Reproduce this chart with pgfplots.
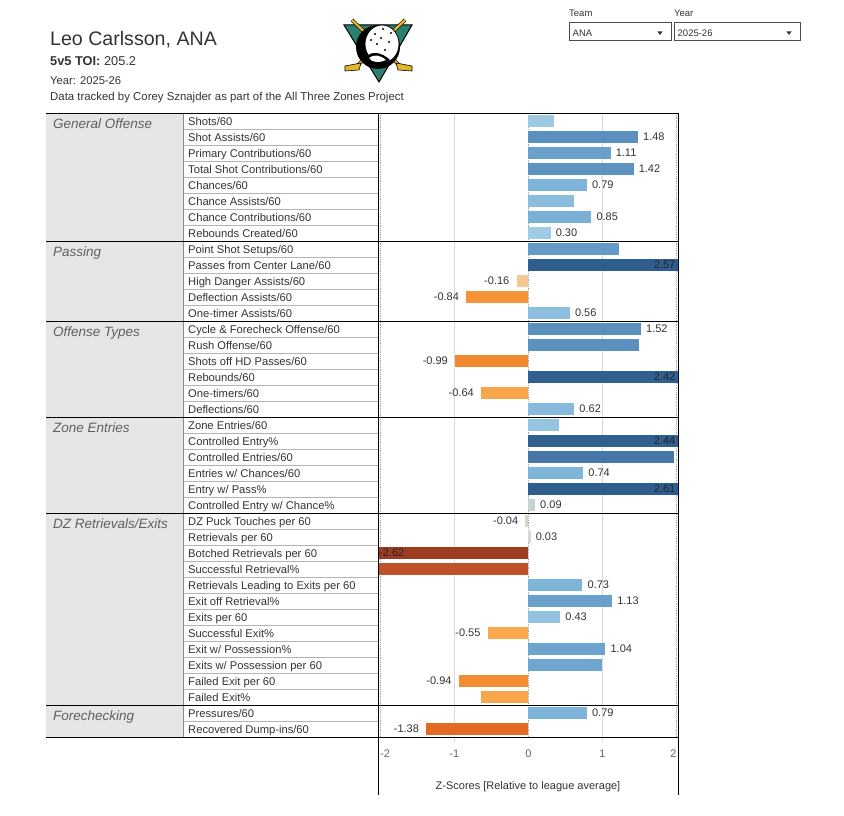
\documentclass[border=0pt]{standalone}
\usepackage{pgfplots}
\pgfplotsset{compat=1.18}
\usepackage{fontspec}
\setmainfont{Liberation Sans}
\definecolor{txt}{HTML}{333333}
\definecolor{grp}{HTML}{5F5F5F}
\definecolor{tickc}{HTML}{666666}
\definecolor{gfill}{HTML}{E6E6E6}
\definecolor{rowl}{HTML}{B4B4B4}
\definecolor{gridc}{HTML}{D9D9D9}
\definecolor{duckteal}{HTML}{2A8070}
\definecolor{stickc}{HTML}{E2B52A}
% bar colours, one per row
\definecolor{r01}{HTML}{9DC9E3}\definecolor{r02}{HTML}{5B8FBF}\definecolor{r03}{HTML}{6AA1CB}
\definecolor{r04}{HTML}{5D92C1}\definecolor{r05}{HTML}{7FB4DA}\definecolor{r06}{HTML}{8BBDDE}
\definecolor{r07}{HTML}{7AAFD6}\definecolor{r08}{HTML}{9FCBE4}\definecolor{r09}{HTML}{659BC8}
\definecolor{r10}{HTML}{2E5E8E}\definecolor{r11}{HTML}{F5C791}\definecolor{r12}{HTML}{F49436}
\definecolor{r13}{HTML}{8CBFDE}\definecolor{r14}{HTML}{5A8FBE}\definecolor{r15}{HTML}{5B90BF}
\definecolor{r16}{HTML}{F08A30}\definecolor{r17}{HTML}{2F6090}\definecolor{r18}{HTML}{F9A54A}
\definecolor{r19}{HTML}{88BADE}\definecolor{r20}{HTML}{94C4E2}\definecolor{r21}{HTML}{2F6090}
\definecolor{r22}{HTML}{4677A8}\definecolor{r23}{HTML}{80B5DA}\definecolor{r24}{HTML}{2E5E8E}
\definecolor{r25}{HTML}{C5D2D6}\definecolor{r26}{HTML}{DFD3C4}\definecolor{r27}{HTML}{D6D6D2}
\definecolor{r28}{HTML}{9E3C22}\definecolor{r29}{HTML}{C0522A}\definecolor{r30}{HTML}{80B5DA}
\definecolor{r31}{HTML}{6AA1CB}\definecolor{r32}{HTML}{94C3E2}\definecolor{r33}{HTML}{FBA94C}
\definecolor{r34}{HTML}{6DA4CE}\definecolor{r35}{HTML}{6EA6CF}\definecolor{r36}{HTML}{F28D33}
\definecolor{r37}{HTML}{F9A54A}\definecolor{r38}{HTML}{7FB4DA}\definecolor{r39}{HTML}{E36A22}
\newcommand\fs[1]{\fontsize{#1}{#1}\selectfont}
\pgfplotsset{hb/.style={xbar, bar width=11.5pt, bar shift=0pt, draw=none, fill=#1, forget plot}}
\begin{document}
\begin{tikzpicture}
\begin{scope}[x=1pt,y=-1pt]
\path[use as bounding box] (0,0) rectangle (844,816);
% titles
\node[anchor=base west, inner sep=0pt, text=txt, font=\fs{19.6}] at (50,46) {Leo Carlsson, ANA};
\node[anchor=base west, inner sep=0pt, text=txt, font=\fs{12.8}] at (50,66) {\textbf{5v5 TOI:} 205.2};
\node[anchor=base west, inner sep=0pt, text=txt, font=\fs{11.2}] at (50,84.3) {Year: 2025-26};
\node[anchor=base west, inner sep=0pt, text=txt, font=\fs{11.4}] at (50,100.7) {Data tracked by Corey Sznajder as part of the All Three Zones Project};
% logo (simplified)
\fill[duckteal, draw=black, line width=1pt] (344,25) -- (412,25) -- (379,82) -- cycle;
\draw[line width=3.6pt, black] (352,20) -- (400,66);
\draw[line width=2.4pt, stickc] (352,20) -- (400,66);
\draw[line width=3.6pt, black] (405,20) -- (357,66);
\draw[line width=2.4pt, stickc] (405,20) -- (357,66);
\fill[stickc, draw=black, line width=0.6pt] (396,63) -- (412,66) -- (412,71) -- (398,70) -- cycle;
\fill[stickc, draw=black, line width=0.6pt] (361,63) -- (345,66) -- (345,71) -- (359,70) -- cycle;
\fill[black] (378,47) circle (22pt);
\fill[white, draw=black, line width=0.8pt] (382,44) ellipse (17pt and 19pt);
\fill[black] (366,58) .. controls (370,50) and (382,52) .. (390,60) .. controls (382,66) and (370,66) .. cycle;
\fill[white] (369,58) .. controls (373,54) and (381,55) .. (386,60) .. controls (380,63) and (372,63) .. cycle;
\foreach \p in {(375,34),(381,38),(389,42),(377,44),(385,50),(371,40),(391,33),(383,29)} \fill[black] \p circle (1.2pt);
% dropdowns
\node[anchor=base west, inner sep=0pt, text=txt, font=\fs{9.5}] at (569,16.7) {Team};
\node[anchor=base west, inner sep=0pt, text=txt, font=\fs{9.5}] at (674,16.2) {Year};
\draw[black!70, line width=0.8pt] (569,22.5) rectangle (671,40.5);
\draw[black!70, line width=0.8pt] (674,22.5) rectangle (800.5,40.5);
\node[anchor=base west, inner sep=0pt, text=txt, font=\fs{9.5}] at (572.5,36.5) {ANA};
\node[anchor=base west, inner sep=0pt, text=txt, font=\fs{9.5}] at (677.5,36.5) {2025-26};
\fill[black!80] (657.5,31.5) -- (662.5,31.5) -- (660,35) -- cycle;
\fill[black!80] (786.5,31.5) -- (791.5,31.5) -- (789,35) -- cycle;
% group column
\fill[gfill] (46,113) rectangle (183,737);
\end{scope}
\begin{axis}[
  at={(378pt,-113pt)}, anchor=north west,
  width=300pt, height=624pt, scale only axis,
  xmin=-2.03, xmax=2.02, ymin=0.5, ymax=39.5, y dir=reverse,
  axis line style={draw=none},
  xtick={-1,1}, xticklabels={-1,1},
  extra x ticks={-2,0,2}, extra x tick labels={\makebox[0pt][l]{-2},0,\makebox[0pt][r]{2}},
  extra x tick style={grid style={densely dotted, color=black!35, line width=0.7pt}, xtick style={draw=none}},
  xmajorgrids=true, grid style={gridc, line width=0.8pt},
  tick align=outside, xtick pos=left, ytick pos=left,
  major tick length=5pt, xtick style={gridc, line width=0.8pt},
  ytick style={draw=none},
  tick label style={font=\fs{11}, text=tickc},
  xticklabel style={yshift=-4pt},
  xlabel={Z-Scores [Relative to league average]},
  xlabel style={font=\fs{11}, text=txt, at={(axis description cs:0.5,0)}, anchor=center, yshift=-50pt},
  ytick={1,...,39},
  yticklabels={Shots/60, Shot Assists/60, Primary Contributions/60, Total Shot Contributions/60, Chances/60, Chance Assists/60, Chance Contributions/60, Rebounds Created/60, Point Shot Setups/60, Passes from Center Lane/60, High Danger Assists/60, Deflection Assists/60, One-timer Assists/60, Cycle \& Forecheck Offense/60, Rush Offense/60, Shots off HD Passes/60, Rebounds/60, One-timers/60, Deflections/60, Zone Entries/60, Controlled Entry\%, Controlled Entries/60, Entries w/ Chances/60, Entry w/ Pass\%, Controlled Entry w/ Chance\%, DZ Puck Touches per 60, Retrievals per 60, Botched Retrievals per 60, Successful Retrieval\%, Retrievals Leading to Exits per 60, Exit off Retrieval\%, Exits per 60, Successful Exit\%, Exit w/ Possession\%, Exits w/ Possession per 60, Failed Exit per 60, Failed Exit\%, Pressures/60, Recovered Dump-ins/60},
  yticklabel style={anchor=base west, inner sep=0pt, xshift=-185pt, yshift=-4.3pt, font=\fs{11.2}, text=txt},
]
\addplot[hb=r01] coordinates {(0.34,1)};
\addplot[hb=r02] coordinates {(1.48,2)};
\addplot[hb=r03] coordinates {(1.11,3)};
\addplot[hb=r04] coordinates {(1.42,4)};
\addplot[hb=r05] coordinates {(0.79,5)};
\addplot[hb=r06] coordinates {(0.61,6)};
\addplot[hb=r07] coordinates {(0.85,7)};
\addplot[hb=r08] coordinates {(0.30,8)};
\addplot[hb=r09] coordinates {(1.22,9)};
\addplot[hb=r10] coordinates {(2.57,10)};
\addplot[hb=r11] coordinates {(-0.16,11)};
\addplot[hb=r12] coordinates {(-0.84,12)};
\addplot[hb=r13] coordinates {(0.56,13)};
\addplot[hb=r14] coordinates {(1.52,14)};
\addplot[hb=r15] coordinates {(1.50,15)};
\addplot[hb=r16] coordinates {(-0.99,16)};
\addplot[hb=r17] coordinates {(2.42,17)};
\addplot[hb=r18] coordinates {(-0.64,18)};
\addplot[hb=r19] coordinates {(0.62,19)};
\addplot[hb=r20] coordinates {(0.41,20)};
\addplot[hb=r21] coordinates {(2.44,21)};
\addplot[hb=r22] coordinates {(1.97,22)};
\addplot[hb=r23] coordinates {(0.74,23)};
\addplot[hb=r24] coordinates {(2.61,24)};
\addplot[hb=r25] coordinates {(0.09,25)};
\addplot[hb=r26] coordinates {(-0.04,26)};
\addplot[hb=r27] coordinates {(0.03,27)};
\addplot[hb=r28] coordinates {(-2.62,28)};
\addplot[hb=r29] coordinates {(-2.25,29)};
\addplot[hb=r30] coordinates {(0.73,30)};
\addplot[hb=r31] coordinates {(1.13,31)};
\addplot[hb=r32] coordinates {(0.43,32)};
\addplot[hb=r33] coordinates {(-0.55,33)};
\addplot[hb=r34] coordinates {(1.04,34)};
\addplot[hb=r35] coordinates {(1.00,35)};
\addplot[hb=r36] coordinates {(-0.94,36)};
\addplot[hb=r37] coordinates {(-0.64,37)};
\addplot[hb=r38] coordinates {(0.79,38)};
\addplot[hb=r39] coordinates {(-1.38,39)};
% labels right of positive bars
\addplot[draw=none, mark=none, forget plot, nodes near coords, point meta=explicit symbolic,
  nodes near coords align=horizontal,
  every node near coord/.append style={anchor=west, inner sep=0pt, xshift=5pt, font=\fs{11}, text=txt}]
  table[x=x, y=y, meta=l, row sep=\\] {
x y l\\
1.48 2 1.48\\ 1.11 3 1.11\\ 1.42 4 1.42\\ 0.79 5 0.79\\ 0.85 7 0.85\\ 0.30 8 0.30\\
0.56 13 0.56\\ 1.52 14 1.52\\ 0.62 19 0.62\\ 0.74 23 0.74\\ 0.09 25 0.09\\ 0.03 27 0.03\\
0.73 30 0.73\\ 1.13 31 1.13\\ 0.43 32 0.43\\ 1.04 34 1.04\\ 0.79 38 0.79\\
};
% labels left of negative bars
\addplot[draw=none, mark=none, forget plot, nodes near coords, point meta=explicit symbolic,
  nodes near coords align=horizontal,
  every node near coord/.append style={anchor=east, inner sep=0pt, xshift=-7pt, font=\fs{11}, text=txt}]
  table[x=x, y=y, meta=l, row sep=\\] {
x y l\\
-0.16 11 -0.16\\ -0.84 12 -0.84\\ -0.99 16 -0.99\\ -0.64 18 -0.64\\ -0.04 26 -0.04\\
-0.55 33 -0.55\\ -0.94 36 -0.94\\ -1.38 39 -1.38\\
};
% labels inside clipped bars (right edge)
\addplot[draw=none, mark=none, forget plot, nodes near coords, point meta=explicit symbolic,
  nodes near coords align=horizontal,
  every node near coord/.append style={anchor=east, inner sep=0pt, xshift=-1pt, font=\fs{11}, text=black!85}]
  table[x=x, y=y, meta=l, row sep=\\] {
x y l\\
2.0 10 2.57\\ 2.0 17 2.42\\ 2.0 21 2.44\\ 2.0 24 2.61\\
};
% label inside clipped bar (left edge)
\addplot[draw=none, mark=none, forget plot, nodes near coords, point meta=explicit symbolic,
  nodes near coords align=horizontal,
  every node near coord/.append style={anchor=west, inner sep=0pt, xshift=1pt, font=\fs{11}, text=black!85}]
  table[x=x, y=y, meta=l, row sep=\\] {
x y l\\
-2.03 28 -2.62\\
};
\end{axis}
\begin{scope}[x=1pt,y=-1pt]
% table lines
\foreach \k in {1,...,7,9,10,11,12,14,15,16,17,18,20,21,22,23,24,26,27,28,29,30,31,32,33,34,35,36,38}
  \draw[rowl, line width=0.7pt] (183,{113+16*\k}) -- (378,{113+16*\k});
\draw[black!45, line width=0.7pt] (183,113) -- (183,737);
\foreach \yy in {113,241,321,417,513,705,737}
  \draw[black, line width=0.9pt] (46,\yy) -- (678,\yy);
\draw[black, line width=0.9pt] (378,113) -- (378,795);
\draw[black, line width=0.9pt] (678,113) -- (678,795);
% group names
\foreach \yy/\t in {128.5/{General Offense}, 256.5/{Passing}, 336.5/{Offense Types}, 432.5/{Zone Entries}, 528.5/{DZ Retrievals/Exits}, 720.5/{Forechecking}}
  \node[anchor=base west, inner sep=0pt, text=grp, font=\fs{13.5}\itshape] at (53,\yy) {\t};
\end{scope}
\end{tikzpicture}
\end{document}
